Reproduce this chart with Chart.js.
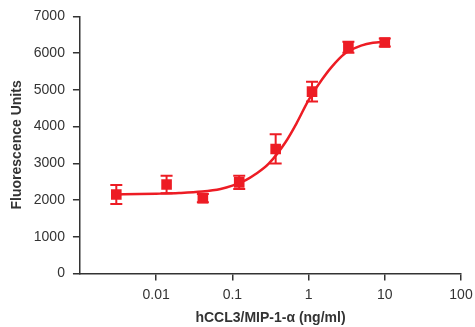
<!DOCTYPE html>
<html>
<head>
<meta charset="utf-8">
<script src="https://cdn.jsdelivr.net/npm/chart.js@4/dist/chart.umd.min.js"></script>
<style>
  html, body { margin: 0; padding: 0; background: #fff; }
  #wrap { width: 475px; height: 327px; }
</style>
</head>
<body>
<div id="wrap"><canvas id="chart"></canvas></div>
<script>
// measured points (dose in ng/ml)
const doses = [0.003, 0.0137, 0.041, 0.123, 0.37, 1.11, 3.33, 10];
const signal = [2150, 2420, 2050, 2480, 3390, 4950, 6160, 6290];
const errors = [260, 240, 110, 180, 400, 270, 150, 110];

// fitted curve
const curveX = [0.003, 0.006, 0.01, 0.02, 0.04, 0.07, 0.1, 0.15, 0.2, 0.3, 0.5, 0.7, 1, 1.5, 2, 3, 5, 7, 10];
const curveY = [2152, 2160, 2170, 2190, 2230, 2300, 2390, 2540, 2700, 2990, 3580, 4100, 4720, 5280, 5620, 5990, 6210, 6280, 6310];

const xTicks = [0.01, 0.1, 1, 10, 100];
const yMin = 0, yMax = 7000, yStep = 1000;

const RED = '#ed1c24';
const AXIS = '#333333';
const FONT = '"Liberation Sans", Arial, sans-serif';

// draw the error bars from the data arrays
const errorBars = {
    id: 'errorBars',
    afterDatasetsDraw(chart) {
        const { ctx, scales: { x, y } } = chart;
        ctx.save();
        ctx.strokeStyle = RED;
        ctx.lineWidth = 2;
        doses.forEach((d, i) => {
            const px = x.getPixelForValue(d);
            const top = y.getPixelForValue(signal[i] + errors[i]);
            const bot = y.getPixelForValue(signal[i] - errors[i]);
            ctx.beginPath();
            ctx.moveTo(px, top); ctx.lineTo(px, bot);
            ctx.moveTo(px - 6, top); ctx.lineTo(px + 6, top);
            ctx.moveTo(px - 6, bot); ctx.lineTo(px + 6, bot);
            ctx.stroke();
        });
        ctx.restore();
    }
};

new Chart(document.getElementById('chart'), {
    type: 'line',
    data: {
        datasets: [{
            data: curveX.map((v, i) => ({ x: v, y: curveY[i] })),
            borderColor: RED,
            borderWidth: 2.5,
            pointRadius: 0,
            cubicInterpolationMode: 'monotone',
            fill: false
        }, {
            data: doses.map((v, i) => ({ x: v, y: signal[i] })),
            showLine: false,
            pointStyle: 'rect',
            pointRadius: 7.5,
            backgroundColor: RED,
            borderColor: RED,
            borderWidth: 0
        }]
    },
    options: {
        responsive: true,
        maintainAspectRatio: false,
        animation: false,
        events: [],
        layout: { padding: { top: 6, left: 9, right: 0, bottom: 0 } },
        plugins: {
            legend: { display: false },
            tooltip: { enabled: false }
        },
        scales: {
            x: {
                type: 'logarithmic',
                min: 0.001,
                max: 100,
                afterBuildTicks: axis => { axis.ticks = xTicks.map(v => ({ value: v })); },
                afterFit: axis => { axis.paddingRight = 14; },
                ticks: {
                    color: AXIS,
                    padding: 6,
                    maxRotation: 0,
                    font: { family: FONT, size: 14 },
                    callback: v => String(v)
                },
                grid: { display: true, drawOnChartArea: false, drawTicks: true, tickLength: 7, color: AXIS, lineWidth: 1.5 },
                border: { display: true, color: AXIS, width: 1.5 },
                title: {
                    display: true,
                    text: 'hCCL3/MIP-1-α (ng/ml)',
                    color: AXIS,
                    padding: { top: 1, bottom: 0 },
                    font: { family: FONT, size: 14, weight: 'bold', lineHeight: 1.2 }
                }
            },
            y: {
                min: yMin,
                max: yMax,
                ticks: {
                    stepSize: yStep,
                    color: AXIS,
                    padding: 8,
                    font: { family: FONT, size: 14 },
                    callback: v => String(v)
                },
                grid: { display: true, drawOnChartArea: false, drawTicks: true, tickLength: 7, color: AXIS, lineWidth: 1.5 },
                border: { display: true, color: AXIS, width: 1.5 },
                title: {
                    display: true,
                    text: 'Fluorescence Units',
                    color: AXIS,
                    padding: { top: 0, bottom: 0 },
                    font: { family: FONT, size: 14, weight: 'bold', lineHeight: 1.2 }
                }
            }
        }
    },
    plugins: [errorBars]
});
</script>
</body>
</html>
